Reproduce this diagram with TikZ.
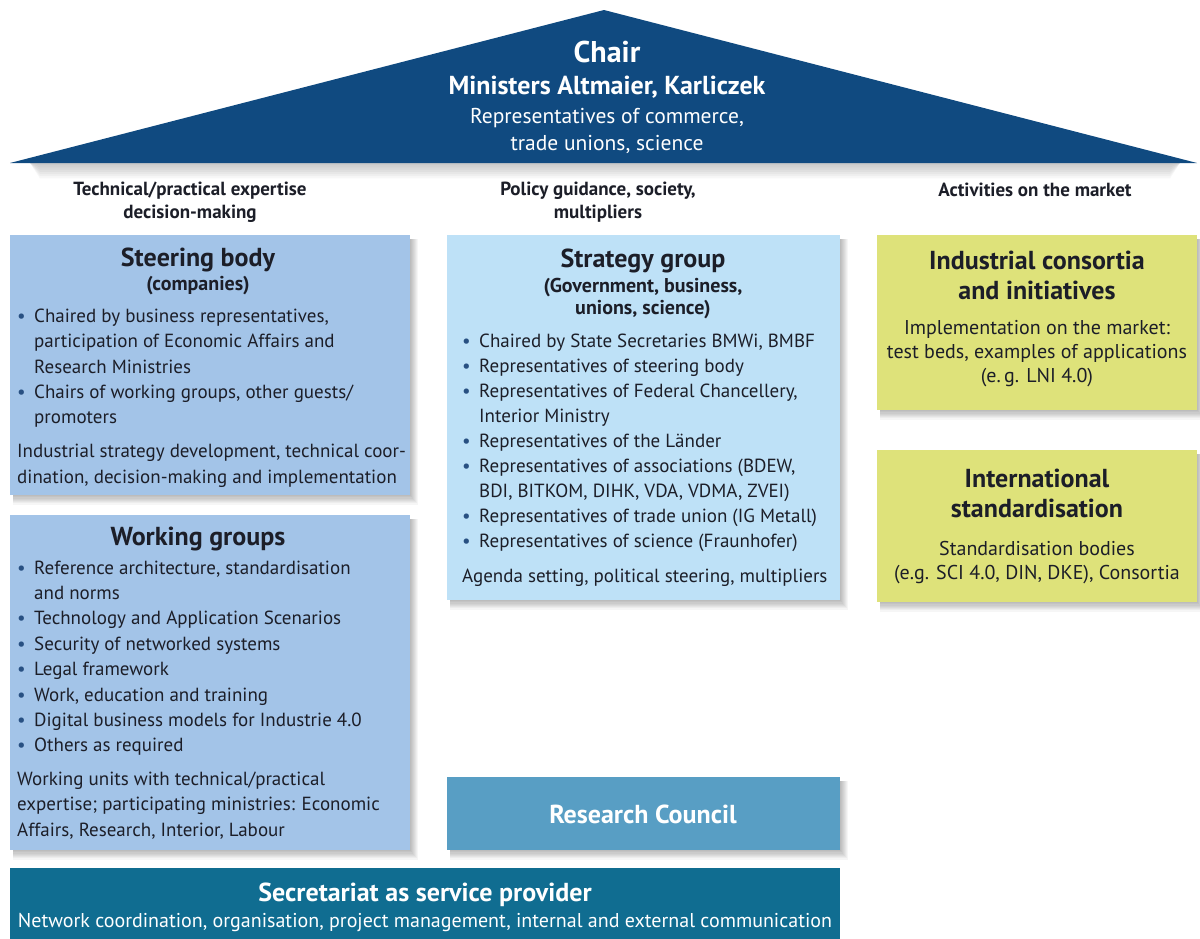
\documentclass[tikz,border=0pt]{standalone}
\usepackage{fontspec}
\setmainfont{PT Sans}
\definecolor{navy}{RGB}{16,74,128}
\definecolor{steerblue}{RGB}{163,196,232}
\definecolor{stratblue}{RGB}{190,225,247}
\definecolor{limegreen}{RGB}{222,226,122}
\definecolor{rcblue}{RGB}{88,158,196}
\definecolor{secblue}{RGB}{16,109,145}
\definecolor{txt}{RGB}{28,30,40}
\definecolor{bul}{RGB}{40,80,130}
\newcommand{\softshadow}[4]{%
  \foreach \i in {1,...,8}{%
    \fill[black,opacity=0.035] (#1+3,#2+4) rectangle (#3+\i,#4+\i*1.2);
  }%
}
\newcommand{\bu}{\makebox[17pt][l]{\textcolor{bul}{\textbullet}}}
\newcommand{\ind}{\hspace*{17pt}}
\tikzset{
  panel/.style={draw=none, inner sep=0pt, outer sep=0pt, anchor=north west},
  ttl/.style={font=\fontsize{26}{30}\selectfont\bfseries, text=txt, align=center, inner sep=0pt},
  subttl/.style={font=\fontsize{20}{22}\selectfont\bfseries, text=txt, align=center, inner sep=0pt},
  bodytxt/.style={font=\fontsize{19}{25.4}\selectfont, text=txt, align=left, inner sep=0pt, anchor=north west},
  ctrtxt/.style={font=\fontsize{20}{24}\selectfont, text=txt, align=center, inner sep=0pt},
  collabel/.style={font=\fontsize{19}{23}\selectfont\bfseries, text=txt, align=center, inner sep=0pt},
}
\begin{document}
\begin{tikzpicture}[x=1pt,y=-1pt]
\useasboundingbox (0,0) rectangle (1200,938);
\fill[white] (0,0) rectangle (1200,938);
% triangle shadow
\foreach \i in {1,...,7}{
  \fill[black,opacity=0.03] (30,163) -- (1180,163) -- (1170,163+\i*2.2) -- (40,163+\i*2.2) -- cycle;
}
\fill[navy] (10,163) -- (604,10) -- (1197,163) -- cycle;
\node[font=\fontsize{30}{34}\selectfont\bfseries, text=white, inner sep=0pt] (chair) at (607,52) {Chair};
\node[font=\fontsize{26}{27}\selectfont\bfseries, text=white, inner sep=0pt] (ministers) at (607,87) {Ministers Altmaier, Karliczek};
\node[font=\fontsize{21.5}{27}\selectfont, text=white, align=center, inner sep=0pt] (reps) at (607,131) {Representatives of commerce,\\trade unions, science};
% column labels
\node[collabel] (lab1) at (190,202) {Technical/practical expertise\\decision-making};
\node[collabel] (lab2) at (598,202) {Policy guidance, society,\\multipliers};
\node[collabel] (lab3) at (1035,190) {Activities on the market};
% shadows
\softshadow{10}{235}{410}{495}
\softshadow{10}{515}{410}{850}
\softshadow{447}{235}{840}{600}
\softshadow{877}{235}{1197}{410}
\softshadow{877}{450}{1197}{602}
\softshadow{447}{777}{840}{850}
% panels
\node[panel, fill=steerblue, minimum width=400pt, minimum height=260pt] (steer) at (10,235) {};
\node[panel, fill=steerblue, minimum width=400pt, minimum height=335pt] (work) at (10,515) {};
\node[panel, fill=stratblue, minimum width=393pt, minimum height=365pt] (strat) at (447,235) {};
\node[panel, fill=limegreen, minimum width=320pt, minimum height=175pt] (indus) at (877,235) {};
\node[panel, fill=limegreen, minimum width=320pt, minimum height=152pt] (intl) at (877,450) {};
\node[panel, fill=rcblue, minimum width=393pt, minimum height=73pt] (rc) at (447,777) {};
\node[panel, fill=secblue, minimum width=830pt, minimum height=75pt] (sec) at (10,868) {};
% steering body
\node[ttl] (steerT) at (198,260) {Steering body};
\node[subttl] (steerS) at (198,286) {(companies)};
\node[bodytxt] (steerB) at (17,308.5) {%
\bu Chaired by business representatives,\\
\ind participation of Economic Affairs and\\
\ind Research Ministries\\
\bu Chairs of working groups, other guests/\\
\ind promoters\\[8.5pt]
Industrial strategy development, technical coor-\\
dination, decision-making and implementation};
% working groups
\node[ttl] (workT) at (198,539) {Working groups};
\node[bodytxt] (workB) at (17,560.5) {%
\bu Reference architecture, standardisation\\
\ind and norms\\
\bu Technology and Application Scenarios\\
\bu Security of networked systems\\
\bu Legal framework\\
\bu Work, education and training\\
\bu Digital business models for Industrie 4.0\\
\bu Others as required\\[8pt]
Working units with technical/practical\\
expertise; participating ministries: Economic\\
Affairs, Research, Interior, Labour};
% strategy group
\node[ttl] (stratT) at (643,261) {Strategy group};
\node[subttl] (stratS) at (643,299) {(Government, business,\\unions, science)};
\node[bodytxt, font=\fontsize{19}{25}\selectfont] (stratB) at (462,334) {%
\bu Chaired by State Secretaries BMWi, BMBF\\
\bu Representatives of steering body\\
\bu Representatives of Federal Chancellery,\\
\ind Interior Ministry\\
\bu Representatives of the Länder\\
\bu Representatives of associations (BDEW,\\
\ind BDI, BITKOM, DIHK, VDA, VDMA, ZVEI)\\
\bu Representatives of trade union (IG Metall)\\
\bu Representatives of science (Fraunhofer)\\[10pt]
Agenda setting, political steering, multipliers};
% industrial consortia
\node[ttl] (indusT) at (1037,275) {Industrial consortia\\and initiatives};
\node[ctrtxt] (indusB) at (1037,354) {Implementation on the market:\\test beds, examples of applications\\(e.\,g. LNI 4.0)};
% international standardisation
\node[ttl] (intlT) at (1037,493) {International\\standardisation};
\node[ctrtxt] (intlB) at (1037,563) {Standardisation bodies\\(e.g. SCI 4.0, DIN, DKE), Consortia};
% research council
\node[font=\fontsize{26}{28}\selectfont\bfseries, text=white, inner sep=0pt] (rcT) at (643,814) {Research Council};
% secretariat
\node[font=\fontsize{26}{27}\selectfont\bfseries, text=white, inner sep=0pt] (secT) at (425,894.5) {Secretariat as service provider};
\node[font=\fontsize{20}{24}\selectfont, text=white, inner sep=0pt] (secB) at (425,922) {Network coordination, organisation, project management, internal and external communication};
\end{tikzpicture}
\end{document}
